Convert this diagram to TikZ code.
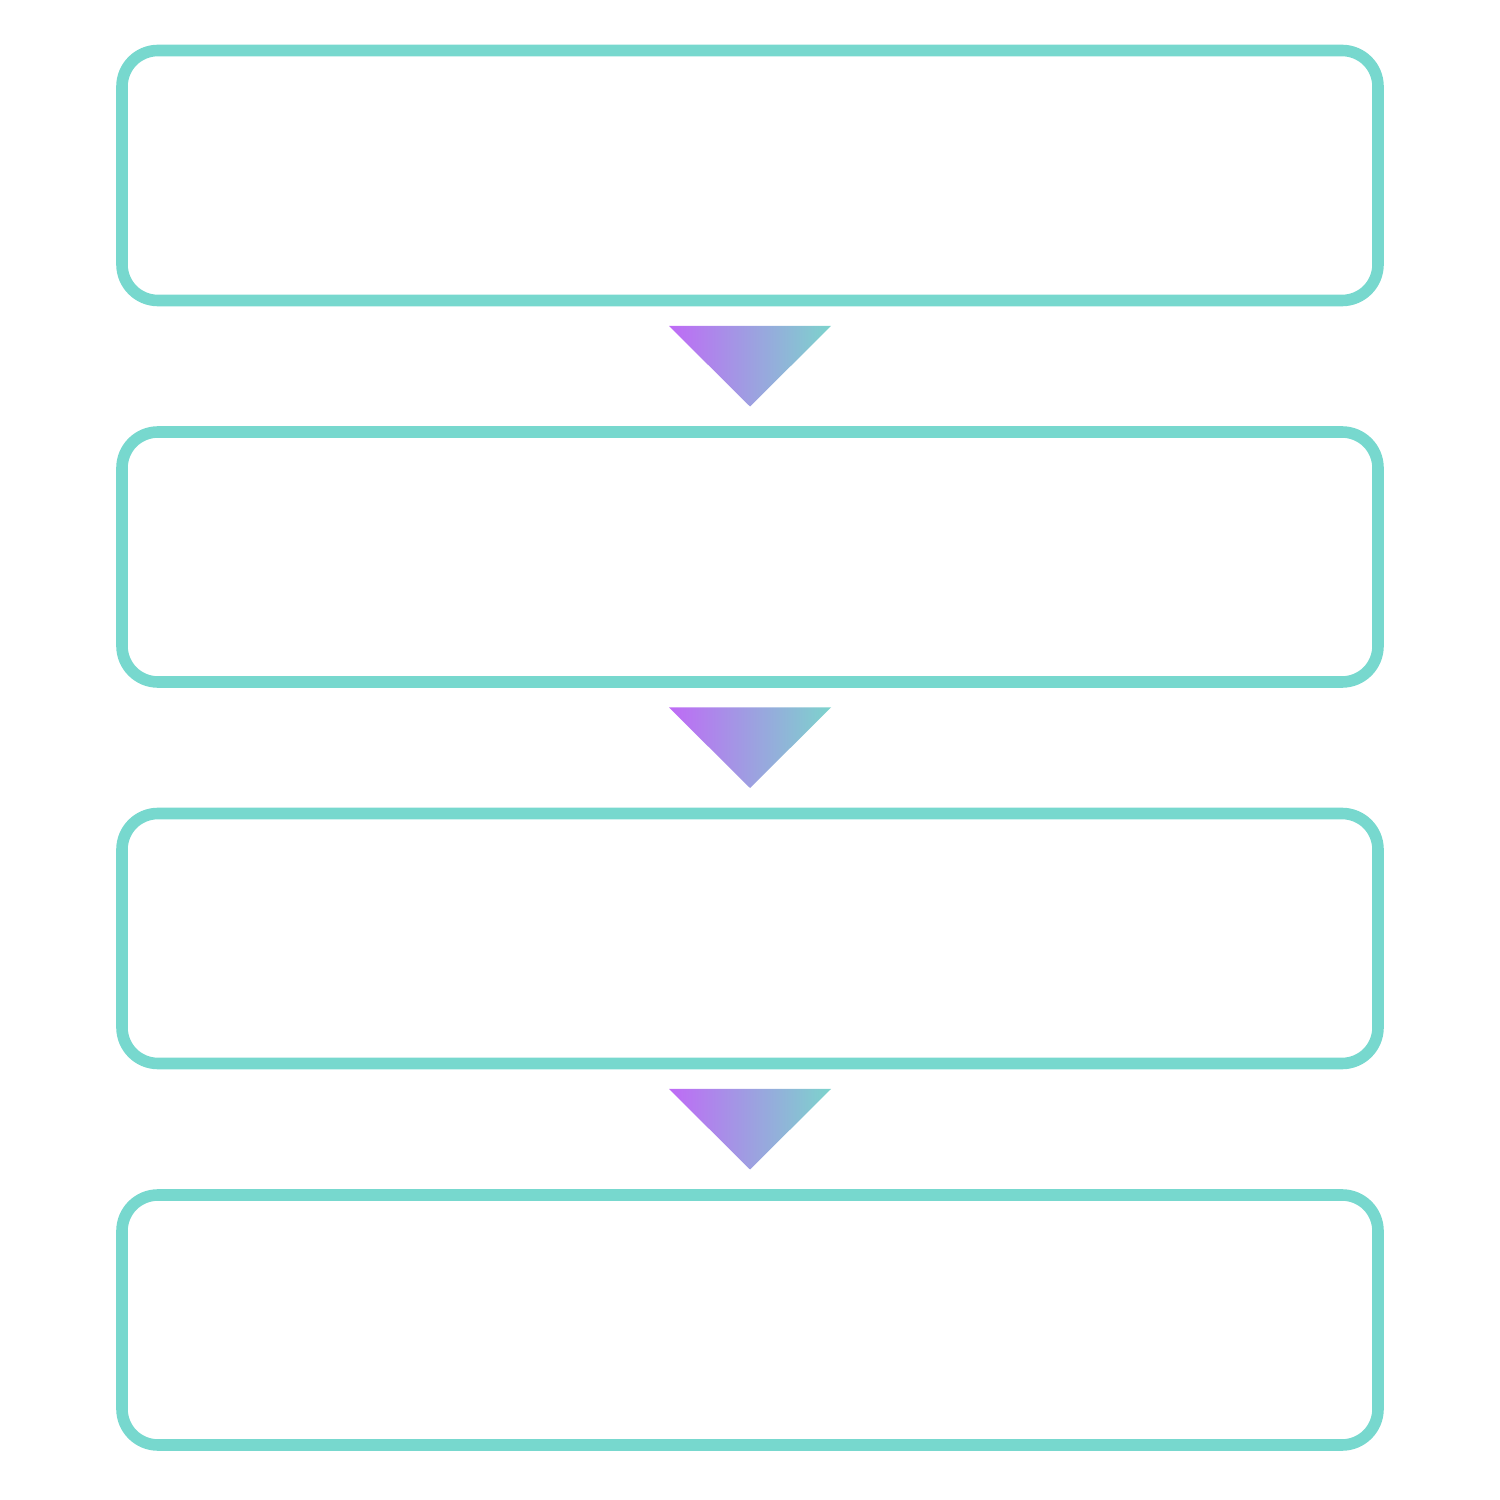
\documentclass[tikz,border=0pt]{standalone}
\usepackage{tikz}
\usetikzlibrary{positioning,calc}
\definecolor{boxteal}{RGB}{119,216,206}
\definecolor{arrowpurple}{RGB}{191,106,246}
\definecolor{arrowteal}{RGB}{124,212,204}

\begin{document}
\begin{tikzpicture} [node distance=3.815cm,line width=3.3pt,
  stage/.style={draw=boxteal,rounded corners=0.36cm,minimum width=12.56cm,
    minimum height=2.5cm,inner sep=0pt,outer sep=0pt}]

  \useasboundingbox (0,0) rectangle (15,15);

  \node[stage] (1) at (7.5,13.245) {};
  \node[stage] (2) [below of=1] {};
  \node[stage] (3) [below of=2] {};
  \node[stage] (4) [below of=3] {};

  % arrows between the stages
  \foreach \a in {1,2,3}
    \shade[left color=arrowpurple,right color=arrowteal]
      ($(\a.south)+(-0.81,-0.255)$) -- ($(\a.south)+(0.81,-0.255)$)
      -- ($(\a.south)+(0,-1.06)$) -- cycle;

\end{tikzpicture}
\end{document}
